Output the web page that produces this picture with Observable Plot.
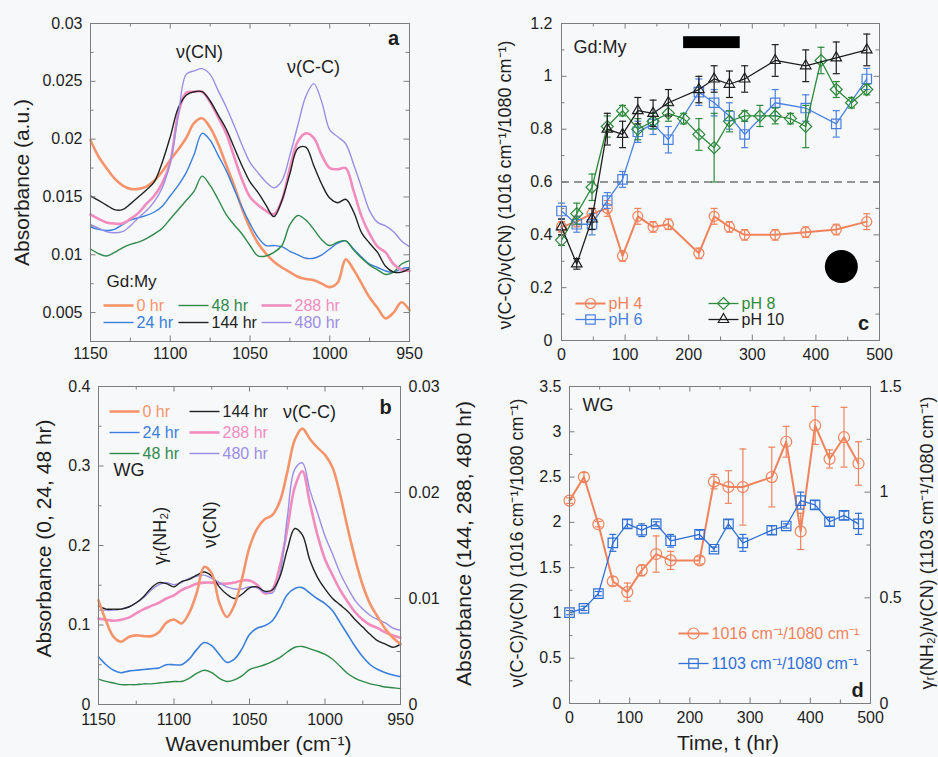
<!DOCTYPE html>
<html>
<head>
<meta charset="utf-8">
<script src="https://cdn.jsdelivr.net/npm/d3@7"></script>
<script src="https://cdn.jsdelivr.net/npm/@observablehq/plot@0.6"></script>
<style>
  html, body { margin: 0; background: #f7f8fa; }
  #fig { position: relative; width: 938px; height: 757px; overflow: hidden; }
  #fig > svg { position: absolute; }
</style>
</head>
<body>
<div id="fig"></div>
<script>
// ---------- Spectra: wavenumber grid (cm-1) ----------
const wn = [1150,1145,1140,1135,1130,1125,1120,1115,1110,1105,1100,1095,1090,1085,1080,1075,1070,1065,1060,1055,
            1050,1045,1040,1035,1030,1025,1020,1015,1010,1005,1000,995,990,985,980,975,970,965,960,955,950];

// Panel a: Gd:My absorbance (a.u.)
const gd0   = [0.0199,0.0185,0.0175,0.0166,0.0160,0.0157,0.0157,0.0159,0.0164,0.0172,0.0182,0.0191,0.0201,0.0214,0.0218,0.0210,0.0196,0.0178,0.0160,0.0140,
               0.0123,0.0110,0.0101,0.0094,0.0089,0.0085,0.0081,0.0079,0.0078,0.0075,0.0072,0.0076,0.0096,0.0087,0.0075,0.0063,0.0054,0.0045,0.0050,0.0059,0.0052];
const gd24  = [0.0124,0.0122,0.0121,0.0122,0.0126,0.0130,0.0132,0.0134,0.0137,0.0142,0.0151,0.0160,0.0171,0.0187,0.0205,0.0199,0.0186,0.0173,0.0157,0.0141,
               0.0127,0.0115,0.0108,0.0108,0.0107,0.0103,0.0100,0.0097,0.0097,0.0100,0.0105,0.0110,0.0112,0.0105,0.0098,0.0092,0.0089,0.0086,0.0085,0.0088,0.0089];
const gd48  = [0.0105,0.0101,0.0099,0.0102,0.0106,0.0109,0.0111,0.0114,0.0118,0.0123,0.0131,0.0139,0.0147,0.0155,0.0168,0.0160,0.0148,0.0135,0.0126,0.0118,
               0.0108,0.0099,0.0099,0.0102,0.0108,0.0126,0.0134,0.0130,0.0122,0.0113,0.0108,0.0111,0.0112,0.0104,0.0097,0.0091,0.0087,0.0083,0.0085,0.0092,0.0095];
const gd144 = [0.0151,0.0147,0.0143,0.0139,0.0139,0.0144,0.0150,0.0156,0.0163,0.0180,0.0202,0.0227,0.0238,0.0241,0.0241,0.0233,0.0221,0.0209,0.0193,0.0177,
               0.0163,0.0154,0.0143,0.0133,0.0147,0.0170,0.0192,0.0193,0.0177,0.0161,0.0149,0.0145,0.0148,0.0137,0.0119,0.0110,0.0102,0.0090,0.0085,0.0085,0.0088];
const gd288 = [0.0135,0.0131,0.0128,0.0127,0.0127,0.0131,0.0136,0.0144,0.0151,0.0162,0.0180,0.0222,0.0240,0.0241,0.0241,0.0232,0.0219,0.0205,0.0185,0.0165,
               0.0150,0.0143,0.0138,0.0135,0.0147,0.0175,0.0198,0.0205,0.0201,0.0186,0.0175,0.0174,0.0175,0.0155,0.0133,0.0118,0.0107,0.0102,0.0092,0.0087,0.0086];
const gd480 = [0.0126,0.0123,0.0120,0.0119,0.0120,0.0125,0.0132,0.0138,0.0146,0.0158,0.0180,0.0220,0.0256,0.0259,0.0261,0.0256,0.0242,0.0228,0.0212,0.0195,
               0.0180,0.0171,0.0163,0.0158,0.0164,0.0186,0.0212,0.0237,0.0248,0.0232,0.0208,0.0202,0.0196,0.0178,0.0158,0.0138,0.0128,0.0125,0.0120,0.0112,0.0107];

// Panel b: WG absorbance; 0/24/48 hr on the left axis, 144/288/480 hr on the right axis
const wg0   = [0.131,0.105,0.085,0.079,0.085,0.087,0.086,0.086,0.091,0.103,0.107,0.102,0.115,0.140,0.173,0.165,0.128,0.110,0.125,0.158,
               0.198,0.221,0.233,0.238,0.255,0.292,0.333,0.347,0.334,0.323,0.314,0.298,0.264,0.222,0.183,0.150,0.126,0.110,0.095,0.084,0.076];
const wg24  = [0.060,0.050,0.043,0.040,0.042,0.043,0.044,0.045,0.046,0.050,0.050,0.050,0.057,0.069,0.078,0.074,0.063,0.053,0.057,0.070,
               0.088,0.096,0.099,0.105,0.120,0.138,0.146,0.147,0.140,0.133,0.127,0.118,0.103,0.088,0.073,0.060,0.050,0.044,0.040,0.037,0.035];
const wg48  = [0.032,0.029,0.027,0.025,0.025,0.025,0.026,0.026,0.027,0.028,0.029,0.029,0.033,0.039,0.043,0.040,0.033,0.029,0.031,0.036,
               0.044,0.047,0.050,0.054,0.059,0.066,0.072,0.073,0.070,0.067,0.063,0.057,0.048,0.039,0.033,0.029,0.026,0.024,0.022,0.021,0.020];
const wg144 = [0.0093,0.0090,0.0090,0.0090,0.0092,0.0096,0.0102,0.0110,0.0115,0.0114,0.0111,0.0116,0.0118,0.0122,0.0125,0.0121,0.0111,0.0104,0.0100,0.0104,
               0.0110,0.0111,0.0107,0.0108,0.0120,0.0146,0.0166,0.0160,0.0136,0.0120,0.0109,0.0100,0.0094,0.0088,0.0080,0.0073,0.0066,0.0060,0.0057,0.0054,0.0057];
const wg288 = [0.0081,0.0080,0.0079,0.0080,0.0082,0.0086,0.0090,0.0093,0.0096,0.0100,0.0103,0.0108,0.0111,0.0114,0.0115,0.0115,0.0114,0.0114,0.0115,0.0117,
               0.0117,0.0113,0.0105,0.0108,0.0130,0.0165,0.0205,0.0220,0.0190,0.0160,0.0137,0.0122,0.0108,0.0097,0.0087,0.0080,0.0075,0.0072,0.0068,0.0065,0.0063];
const wg480 = [0.0089,0.0089,0.0089,0.0090,0.0092,0.0096,0.0101,0.0108,0.0113,0.0115,0.0113,0.0115,0.0119,0.0121,0.0122,0.0119,0.0115,0.0111,0.0109,0.0109,
               0.0111,0.0110,0.0106,0.0105,0.0122,0.0176,0.0222,0.0228,0.0202,0.0181,0.0159,0.0142,0.0124,0.0110,0.0098,0.0090,0.0084,0.0080,0.0077,0.0072,0.0070];
// band assignments written vertically above the WG spectra
const wgBands = [{w: 1109, v: 0.212, label: "γᵣ(NH₂)"}, {w: 1076, v: 0.226, label: "ν(CN)"}];

// Panel c: Gd:My band ratio vs time at four pH values
const tC   = [0,24,48,72,96,120,144,168,216,240,264,288,336,384,432,480];
const tC8  = [0,24,48,72,96,120,144,168,192,216,240,264,288,312,336,360,384,408,432,456,480];
const pH4  = [0.43,0.45,0.48,0.50,0.32,0.47,0.43,0.44,0.33,0.47,0.43,0.40,0.40,0.41,0.42,0.45];
const pH4e = [0.02,0.02,0.02,0.03,0.02,0.03,0.02,0.02,0.02,0.03,0.02,0.02,0.02,0.02,0.02,0.03];
const pH6  = [0.49,0.44,0.44,0.53,0.61,0.79,0.82,0.76,0.94,0.90,0.85,0.78,0.90,0.88,0.82,0.99];
const pH6e = [0.03,0.03,0.04,0.03,0.03,0.04,0.04,0.05,0.05,0.05,0.05,0.05,0.05,0.05,0.05,0.04];
const pH8  = [0.38,0.48,0.58,0.81,0.87,0.80,0.83,0.86,0.84,0.78,0.73,0.83,0.85,0.85,0.85,0.84,0.81,1.06,0.95,0.90,0.95];
const pH8e = [0.02,0.04,0.05,0.04,0.02,0.04,0.03,0.03,0.02,0.06,0.13,0.04,0.02,0.04,0.03,0.02,0.08,0.05,0.03,0.02,0.02];
const pH10  = [0.43,0.29,0.46,0.80,0.78,0.87,0.86,0.90,0.95,0.99,0.97,0.99,1.06,1.04,1.07,1.10];
const pH10e = [0.03,0.02,0.04,0.06,0.05,0.05,0.05,0.05,0.05,0.05,0.05,0.05,0.06,0.06,0.06,0.06];
const cBar  = [{t1: 192, t2: 281, v1: 1.105, v2: 1.15}];
const cDisc = [{t: 440, v: 0.28}];

// Panel d: WG band ratios vs time
const tD    = [0,24,48,72,96,120,144,168,216,240,264,288,336,360,384,408,432,456,480];
const r1016  = [2.24,2.50,1.98,1.35,1.23,1.47,1.65,1.58,1.58,2.45,2.39,2.39,2.50,2.89,1.90,3.07,2.70,2.94,2.65];
const r1016e = [0.03,0.05,0.03,0.05,0.10,0.06,0.20,0.10,0.04,0.08,0.18,0.42,0.33,0.17,0.20,0.21,0.10,0.33,0.24];
const r1103  = [0.43,0.45,0.52,0.76,0.85,0.82,0.85,0.77,0.80,0.73,0.85,0.76,0.82,0.84,0.96,0.94,0.86,0.89,0.85];
const r1103e = [0.01,0.01,0.01,0.04,0.02,0.03,0.01,0.03,0.02,0.01,0.02,0.04,0.02,0.01,0.04,0.02,0.02,0.02,0.05];

// ---------- Tick values ----------
const wnMajor = [1150,1100,1050,1000,950], wnMinor = [1125,1075,1025,975];
const tMajor = [0,100,200,300,400,500], tMinor = [50,150,250,350,450];
const yA = [0.005,0.01,0.015,0.02,0.025,0.03], yAm = [0.0025,0.0075,0.0125,0.0175,0.0225,0.0275];
const yBL = [0,0.1,0.2,0.3,0.4], yBLm = [0.05,0.15,0.25,0.35];
const yBR = [0,0.01,0.02,0.03], yBRm = [0.005,0.015,0.025];
const yC = [0,0.2,0.4,0.6,0.8,1,1.2], yCm = [0.1,0.3,0.5,0.7,0.9,1.1];
const yDL = [0,0.5,1,1.5,2,2.5,3,3.5], yDLm = [0.25,0.75,1.25,1.75,2.25,2.75,3.25];
const yDR = [0,0.5,1,1.5], yDRm = [0.25,0.75,1.25];

// ---------- Shared styling ----------
const FONT = '"Liberation Sans", Arial, Helvetica, sans-serif';
const INK = "#1e1e1e", FRAME = "#7d7d7d";
const baseStyle = {fontFamily: FONT, fontSize: "16px", color: INK, background: "transparent", overflow: "visible"};
const fmt = v => String(+(+v).toFixed(4));
const fig = document.getElementById("fig");
function place(svg, left, top) { svg.style.left = left + "px"; svg.style.top = top + "px"; fig.appendChild(svg); }

// short horizontal stroke used for error-bar caps and legend swatches
const cap = {draw(ctx) { ctx.moveTo(-3.5, 0); ctx.lineTo(3.5, 0); }};
const swatch = {draw(ctx) { ctx.moveTo(-15, 0); ctx.lineTo(15, 0); }};

// inward ticks on all four sides of the frame
function frameTicks({xMajor, xMinor, yLMajor, yLMinor, yRMajor, yRMinor, pw, ph}) {
  const st = {stroke: FRAME, strokeWidth: 1};
  const out = [];
  for (const [vals, len] of [[xMajor, 5.5], [xMinor, 3.5]]) {
    out.push(Plot.tickX(vals, {x: d => d, insetTop: ph - len, ...st}));
    out.push(Plot.tickX(vals, {x: d => d, insetBottom: ph - len, ...st}));
  }
  for (const [vals, len] of [[yLMajor, 5.5], [yLMinor, 3.5]]) out.push(Plot.tickY(vals, {y: d => d, insetRight: pw - len, ...st}));
  for (const [vals, len] of [[yRMajor, 5.5], [yRMinor, 3.5]]) out.push(Plot.tickY(vals, {y: d => d, insetLeft: pw - len, ...st}));
  return out;
}

function legendEntry({dx, dy, color, width, label, symbol, r, fontSize = 16}) {
  const out = [
    Plot.dot([label], {frameAnchor: "top-left", dx, dy, symbol: swatch, stroke: color, strokeWidth: width, fill: "none"}),
    Plot.text([label], {frameAnchor: "top-left", dx: dx + 18, dy, text: d => d, fill: color,
                        textAnchor: "start", lineAnchor: "middle", fontSize})
  ];
  if (symbol) out.push(Plot.dot([label], {frameAnchor: "top-left", dx, dy, symbol, r, stroke: color, strokeWidth: 1.2, fill: "none"}));
  return out;
}

function note(label, anchor, dx, dy, extra = {}) {
  return Plot.text([label], {frameAnchor: anchor, dx, dy, text: d => d, fill: INK,
                             textAnchor: "middle", lineAnchor: "middle", fontSize: 18, ...extra});
}

function spectrum(vals, color, width, scale = 1) {
  return Plot.line(wn.map((w, i) => ({w, v: vals[i] * scale})),
    {x: "w", y: "v", stroke: color, strokeWidth: width, curve: "catmull-rom", strokeLinejoin: "round"});
}

function series(t, v, e, {color, width, symbol, r}, scale = 1) {
  const rows = t.map((tt, i) => ({t: tt, v: v[i] * scale, lo: (v[i] - e[i]) * scale, hi: (v[i] + e[i]) * scale}));
  return [
    Plot.line(rows, {x: "t", y: "v", stroke: color, strokeWidth: width}),
    Plot.ruleX(rows, {x: "t", y1: "lo", y2: "hi", stroke: color, strokeWidth: 1.2}),
    Plot.dot(rows, {x: "t", y: "hi", symbol: cap, stroke: color, strokeWidth: 1.2}),
    Plot.dot(rows, {x: "t", y: "lo", symbol: cap, stroke: color, strokeWidth: 1.2}),
    Plot.dot(rows, {x: "t", y: "v", symbol, r, stroke: color, strokeWidth: 1.2, fill: "none"})
  ];
}

const COL = {h0: "#f5946a", h24: "#3a7fdc", h48: "#2f8a4a", h144: "#222222", h288: "#f28cbe", h480: "#9b8ee4"};

// ---------- Panel a ----------
{
  const W = 470, H = 375, m = {l: 90, r: 61, t: 23, b: 34};
  const pw = W - m.l - m.r, ph = H - m.t - m.b;
  const svg = Plot.plot({
    width: W, height: H, marginLeft: m.l, marginRight: m.r, marginTop: m.t, marginBottom: m.b,
    x: {domain: [1150, 950]}, y: {domain: [0.0025, 0.03]}, style: baseStyle,
    marks: [
      spectrum(gd0, COL.h0, 2.6),
      spectrum(gd24, COL.h24, 1.4),
      spectrum(gd48, COL.h48, 1.4),
      spectrum(gd288, COL.h288, 2.6),
      spectrum(gd144, COL.h144, 1.4),
      spectrum(gd480, COL.h480, 1.4),
      Plot.frame({stroke: FRAME}),
      ...frameTicks({xMajor: wnMajor, xMinor: wnMinor, yLMajor: yA, yLMinor: yAm, yRMajor: yA, yRMinor: yAm, pw, ph}),
      Plot.axisX(wnMajor, {tickSize: 0, tickPadding: 6, tickFormat: fmt, label: null}),
      Plot.axisY(yA, {tickSize: 0, tickPadding: 8, tickFormat: fmt, label: null}),
      note("Absorbance (a.u.)", "left", -68, 0, {rotate: -90, fontSize: 21}),
      note("ν(CN)", "top-left", 109, 29),
      note("ν(C-C)", "top-left", 223, 44),
      note("a", "top-right", -16, 15, {fontWeight: "bold", fontSize: 20}),
      note("Gd:My", "top-left", 16, 258, {textAnchor: "start", fontSize: 17}),
      ...legendEntry({dx: 28, dy: 282, color: COL.h0, width: 2.6, label: "0 hr"}),
      ...legendEntry({dx: 28, dy: 299, color: COL.h24, width: 1.4, label: "24 hr"}),
      ...legendEntry({dx: 103, dy: 282, color: COL.h48, width: 1.4, label: "48 hr"}),
      ...legendEntry({dx: 103, dy: 299, color: COL.h144, width: 1.4, label: "144 hr"}),
      ...legendEntry({dx: 186, dy: 282, color: COL.h288, width: 2.6, label: "288 hr"}),
      ...legendEntry({dx: 186, dy: 299, color: COL.h480, width: 1.4, label: "480 hr"})
    ]
  });
  place(svg, 0, 0);
}

// ---------- Panel b ----------
{
  const W = 470, H = 382, m = {l: 98, r: 70, t: 11, b: 53};
  const pw = W - m.l - m.r, ph = H - m.t - m.b;
  const K = 0.4 / 0.03; // right-axis units mapped onto the left scale
  const svg = Plot.plot({
    width: W, height: H, marginLeft: m.l, marginRight: m.r, marginTop: m.t, marginBottom: m.b,
    x: {domain: [1150, 950]}, y: {domain: [0, 0.4]}, style: baseStyle,
    marks: [
      spectrum(wg48, COL.h48, 1.4),
      spectrum(wg24, COL.h24, 1.6),
      spectrum(wg288, COL.h288, 2.6, K),
      spectrum(wg480, COL.h480, 1.4, K),
      spectrum(wg144, COL.h144, 1.4, K),
      spectrum(wg0, COL.h0, 2.6),
      Plot.frame({stroke: FRAME}),
      ...frameTicks({xMajor: wnMajor, xMinor: wnMinor, yLMajor: yBL, yLMinor: yBLm,
                     yRMajor: yBR.map(v => v * K), yRMinor: yBRm.map(v => v * K), pw, ph}),
      Plot.axisX(wnMajor, {tickSize: 0, tickPadding: 9, tickFormat: fmt, label: null}),
      Plot.axisY(yBL, {tickSize: 0, tickPadding: 8, tickFormat: fmt, label: null}),
      Plot.axisY(yBR.map(v => v * K), {anchor: "right", tickSize: 0, tickPadding: 8, tickFormat: v => fmt(v / K), label: null}),
      note("Absorbance (0, 24, 48 hr)", "left", -54, -7, {rotate: -90, fontSize: 21}),
      note("Absorbance (144, 288, 480 hr)", "right", 64, -2, {rotate: -90, fontSize: 21}),
      note("Wavenumber (cm⁻¹)", "bottom", 9, 40, {fontSize: 21}),
      note("ν(C-C)", "top-left", 211, 26),
      // vertical band labels: rotation given as a per-datum channel
      Plot.text(wgBands, {x: "w", y: "v", text: "label", rotate: () => -90, fill: INK, fontSize: 18,
                          textAnchor: "middle", lineAnchor: "middle"}),
      note("b", "top-right", -15, 21, {fontWeight: "bold", fontSize: 20}),
      note("WG", "top-left", 15, 84, {textAnchor: "start", fontSize: 18}),
      ...legendEntry({dx: 26, dy: 25, color: COL.h0, width: 2.6, label: "0 hr"}),
      ...legendEntry({dx: 26, dy: 46, color: COL.h24, width: 1.4, label: "24 hr"}),
      ...legendEntry({dx: 26, dy: 67, color: COL.h48, width: 1.4, label: "48 hr"}),
      ...legendEntry({dx: 106, dy: 25, color: COL.h144, width: 1.4, label: "144 hr"}),
      ...legendEntry({dx: 106, dy: 46, color: COL.h288, width: 2.6, label: "288 hr"}),
      ...legendEntry({dx: 106, dy: 67, color: COL.h480, width: 1.4, label: "480 hr"})
    ]
  });
  place(svg, 0, 375);
}

// ---------- Panel c ----------
{
  const W = 468, H = 375, m = {l: 91, r: 59, t: 23, b: 35};
  const pw = W - m.l - m.r, ph = H - m.t - m.b;
  const sty = {
    p4:  {color: "#f0835c", width: 2, symbol: "circle", r: 5},
    p6:  {color: "#4a80e0", width: 1.3, symbol: "square2", r: 6},
    p8:  {color: "#2e8a3c", width: 1.3, symbol: "diamond2", r: 5.4},
    p10: {color: "#1e1e1e", width: 1.3, symbol: "triangle2", r: 5}
  };
  const svg = Plot.plot({
    width: W, height: H, marginLeft: m.l, marginRight: m.r, marginTop: m.t, marginBottom: m.b,
    x: {domain: [0, 500]}, y: {domain: [0, 1.2]}, style: baseStyle,
    marks: [
      Plot.ruleY([0.6], {stroke: "#333", strokeWidth: 1.2, strokeDasharray: "8,5"}),
      Plot.rect(cBar, {x1: "t1", x2: "t2", y1: "v1", y2: "v2", fill: "#000"}),
      Plot.dot(cDisc, {x: "t", y: "v", r: 16.5, fill: "#000"}),
      ...series(tC, pH4, pH4e, sty.p4),
      ...series(tC, pH6, pH6e, sty.p6),
      ...series(tC8, pH8, pH8e, sty.p8),
      ...series(tC, pH10, pH10e, sty.p10),
      Plot.frame({stroke: FRAME}),
      ...frameTicks({xMajor: tMajor, xMinor: tMinor, yLMajor: yC, yLMinor: yCm, yRMajor: yC, yRMinor: yCm, pw, ph}),
      Plot.axisX(tMajor, {tickSize: 0, tickPadding: 8, tickFormat: fmt, label: null}),
      Plot.axisY(yC, {tickSize: 0, tickPadding: 9, tickFormat: fmt, label: null}),
      note("ν(C-C)/ν(CN) (1016 cm⁻¹/1080 cm⁻¹)", "left", -56, 3, {rotate: -90, fontSize: 18}),
      note("Gd:My", "top-left", 12, 24, {textAnchor: "start", fontSize: 18}),
      note("c", "top-right", -16, 300, {fontWeight: "bold", fontSize: 20}),
      ...legendEntry({dx: 29, dy: 280, label: "pH 4", ...sty.p4}),
      ...legendEntry({dx: 29, dy: 296, label: "pH 6", ...sty.p6}),
      ...legendEntry({dx: 162, dy: 280, label: "pH 8", ...sty.p8}),
      ...legendEntry({dx: 162, dy: 296, label: "pH 10", ...sty.p10})
    ]
  });
  place(svg, 470, 0);
}

// ---------- Panel d ----------
{
  const W = 468, H = 382, m = {l: 99, r: 68, t: 11, b: 54};
  const pw = W - m.l - m.r, ph = H - m.t - m.b;
  const K = 3.5 / 1.5; // right-axis units mapped onto the left scale
  const sty = {
    o: {color: "#f0835c", width: 2, symbol: "circle", r: 5.5},
    b: {color: "#2f6fd6", width: 1.3, symbol: "square2", r: 6}
  };
  const svg = Plot.plot({
    width: W, height: H, marginLeft: m.l, marginRight: m.r, marginTop: m.t, marginBottom: m.b,
    x: {domain: [0, 500]}, y: {domain: [0, 3.5]}, style: baseStyle,
    marks: [
      ...series(tD, r1016, r1016e, sty.o),
      ...series(tD, r1103, r1103e, sty.b, K),
      Plot.frame({stroke: FRAME}),
      ...frameTicks({xMajor: tMajor, xMinor: tMinor, yLMajor: yDL, yLMinor: yDLm,
                     yRMajor: yDR.map(v => v * K), yRMinor: yDRm.map(v => v * K), pw, ph}),
      Plot.axisX(tMajor, {tickSize: 0, tickPadding: 8, tickFormat: fmt, label: null}),
      Plot.axisY(yDL, {tickSize: 0, tickPadding: 8, tickFormat: fmt, label: null}),
      Plot.axisY(yDR.map(v => v * K), {anchor: "right", tickSize: 0, tickPadding: 9, tickFormat: v => fmt(v / K), label: null}),
      note("ν(C-C)/ν(CN) (1016 cm⁻¹/1080 cm⁻¹)", "left", -52, -2, {rotate: -90, fontSize: 18}),
      note("γᵣ(NH₂)/ν(CN) (1103 cm⁻¹/1080 cm⁻¹)", "right", 57, -2, {rotate: -90, fontSize: 18}),
      note("Time, t (hr)", "bottom", 8, 40, {fontSize: 21}),
      note("WG", "top-left", 13, 19, {textAnchor: "start", fontSize: 18}),
      note("d", "top-right", -13, 304, {fontWeight: "bold", fontSize: 20}),
      ...legendEntry({dx: 124, dy: 247, label: "1016 cm⁻¹/1080 cm⁻¹", ...sty.o}),
      ...legendEntry({dx: 124, dy: 277, label: "1103 cm⁻¹/1080 cm⁻¹", ...sty.b})
    ]
  });
  place(svg, 470, 375);
}
</script>
</body>
</html>
